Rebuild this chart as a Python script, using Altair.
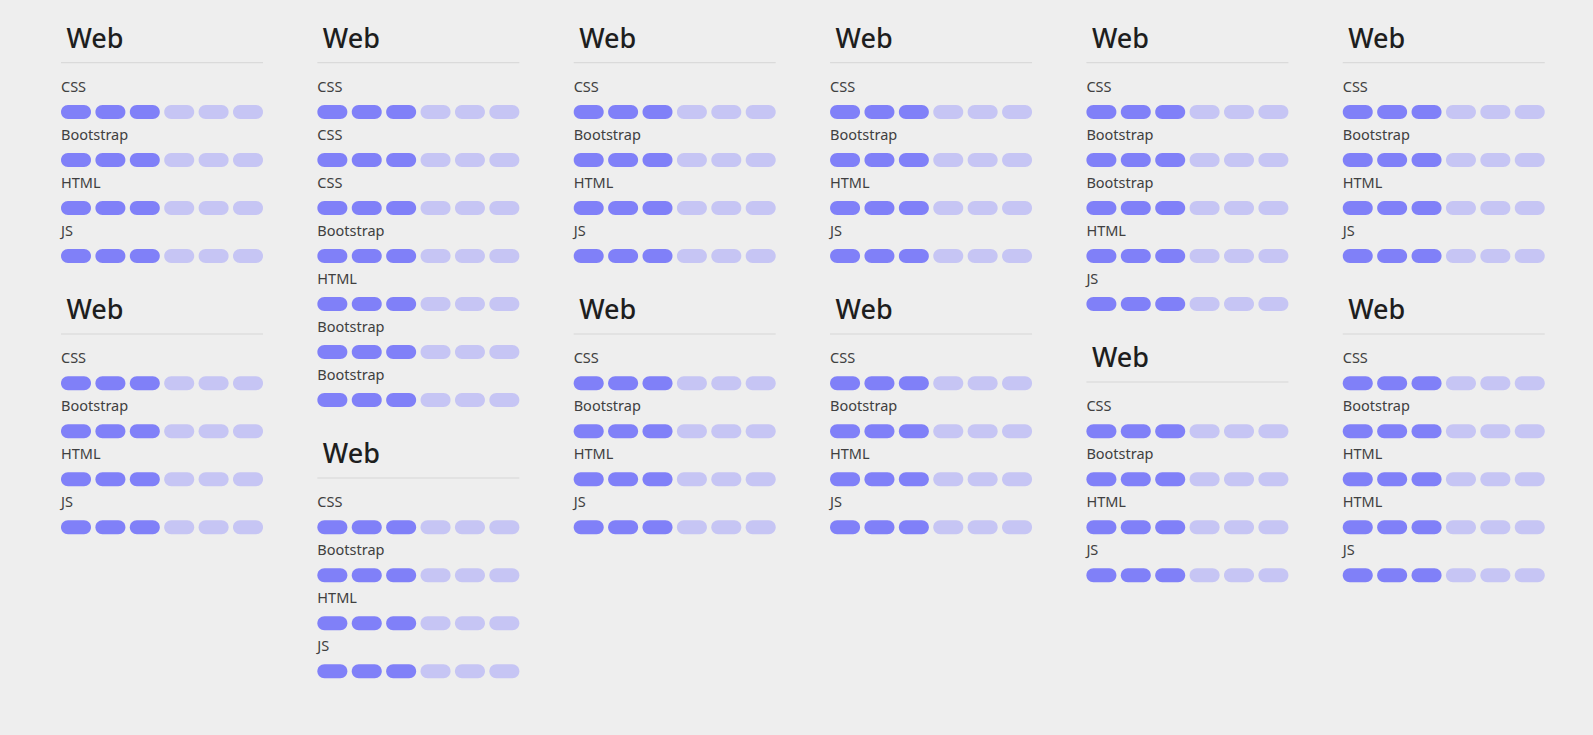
import altair as alt
import pandas as pd

# ---- data ----
card_titles = ["Web"] * 12
card_columns = [0, 0, 1, 1, 2, 2, 3, 3, 4, 4, 5, 5]
card_skills = [
    ["CSS", "Bootstrap", "HTML", "JS"],
    ["CSS", "Bootstrap", "HTML", "JS"],
    ["CSS", "CSS", "CSS", "Bootstrap", "HTML", "Bootstrap", "Bootstrap"],
    ["CSS", "Bootstrap", "HTML", "JS"],
    ["CSS", "Bootstrap", "HTML", "JS"],
    ["CSS", "Bootstrap", "HTML", "JS"],
    ["CSS", "Bootstrap", "HTML", "JS"],
    ["CSS", "Bootstrap", "HTML", "JS"],
    ["CSS", "Bootstrap", "Bootstrap", "HTML", "JS"],
    ["CSS", "Bootstrap", "HTML", "JS"],
    ["CSS", "Bootstrap", "HTML", "JS"],
    ["CSS", "Bootstrap", "HTML", "HTML", "JS"],
]
card_levels = [[3] * len(s) for s in card_skills]
max_level = 6

# ---- layout (px units) ----
W, H = 1593, 735
COL_X0, COL_STEP = 61, 256.35
CARD_W = 202
PILL_STEP, PILL_W = 34.4, 30
TOP = 48
ROW = 48
HEADER = 79.3

titles, rules, labels, pills = [], [], [], []
col_y = {c: TOP for c in range(6)}
for t, c, skills, levels in zip(card_titles, card_columns, card_skills, card_levels):
    T = col_y[c]
    x0 = COL_X0 + c * COL_STEP
    titles.append({"x": x0 + 5.5, "y": T, "text": t})
    rules.append({"x": x0, "x2": x0 + CARD_W, "y": T + 14.7})
    for i, (s, lv) in enumerate(zip(skills, levels)):
        labels.append({"x": x0, "y": T + 43.7 + ROW * i, "text": s})
        for j in range(max_level):
            pills.append({
                "x": x0 + j * PILL_STEP,
                "x2": x0 + j * PILL_STEP + PILL_W,
                "y": T + 57 + ROW * i,
                "y2": T + 71 + ROW * i,
                "state": "on" if j < lv else "off",
            })
    col_y[c] = T + HEADER + ROW * len(skills)

xs = alt.Scale(domain=[0, W], range=[0, W])
ys = alt.Scale(domain=[0, H], range=[0, H])

pill_layer = alt.Chart(pd.DataFrame(pills)).mark_bar(cornerRadius=7).encode(
    x=alt.X("x:Q", scale=xs, axis=None),
    x2="x2:Q",
    y=alt.Y("y:Q", scale=ys, axis=None),
    y2="y2:Q",
    color=alt.Color("state:N", scale=alt.Scale(domain=["on", "off"], range=["#8080f8", "#c6c5f4"]), legend=None),
)

rule_layer = alt.Chart(pd.DataFrame(rules)).mark_rule(color="#d6d6d6", strokeWidth=1).encode(
    x=alt.X("x:Q", scale=xs, axis=None),
    x2="x2:Q",
    y=alt.Y("y:Q", scale=ys, axis=None),
)

title_layer = alt.Chart(pd.DataFrame(titles)).mark_text(
    align="left", baseline="alphabetic", fontSize=27, fontWeight=500,
    font="Noto Sans", color="#1e1e1e",
).encode(
    x=alt.X("x:Q", scale=xs, axis=None),
    y=alt.Y("y:Q", scale=ys, axis=None),
    text="text:N",
)

label_layer = alt.Chart(pd.DataFrame(labels)).mark_text(
    align="left", baseline="alphabetic", fontSize=14.5,
    font="Noto Sans", color="#404040",
).encode(
    x=alt.X("x:Q", scale=xs, axis=None),
    y=alt.Y("y:Q", scale=ys, axis=None),
    text="text:N",
)

chart = alt.layer(pill_layer, rule_layer, title_layer, label_layer).properties(
    width=W, height=H, padding=0, autosize=alt.AutoSizeParams(type="none"),
    background="#eeeeee",
).configure_view(stroke=None)

chart.save("out.html", embed_options={"renderer": "svg", "actions": False})
